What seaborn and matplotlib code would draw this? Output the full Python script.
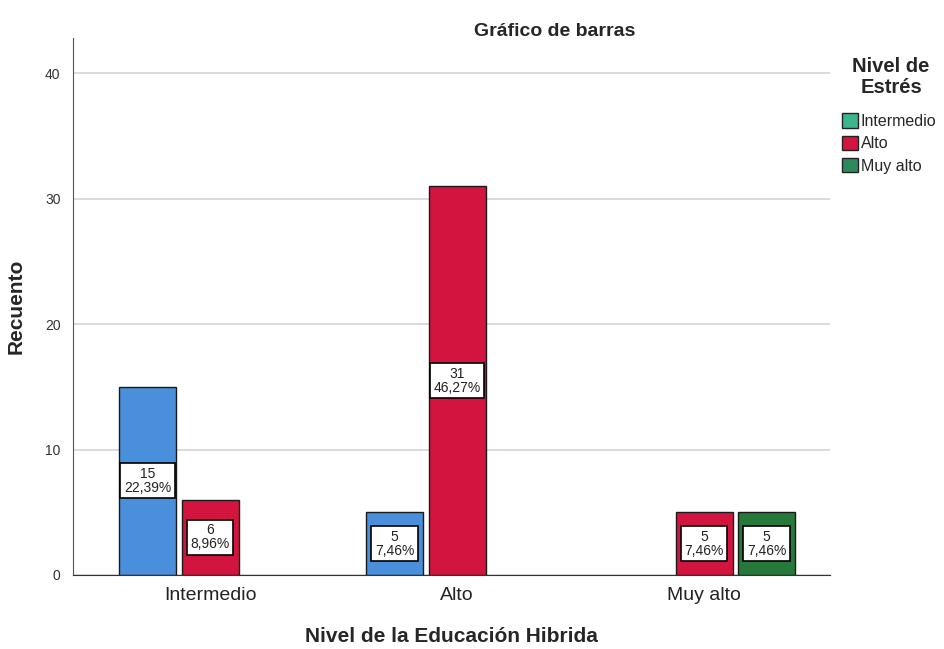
import matplotlib
matplotlib.use("Agg")
import matplotlib.pyplot as plt
import seaborn as sns
import pandas as pd
import numpy as np
from matplotlib.patches import Patch

# ---- data ----
educ_levels = ["Intermedio", "Alto", "Muy alto"]
stress_levels = ["Intermedio", "Alto", "Muy alto"]
educ_col = ["Intermedio", "Intermedio", "Alto", "Alto", "Muy alto", "Muy alto"]
stress_col = ["Intermedio", "Alto", "Intermedio", "Alto", "Alto", "Muy alto"]
counts = [15, 6, 5, 31, 5, 5]
yticks = [0, 10, 20, 30, 40]

bar_colors = ["#4a8fdc", "#d3143e", "#26793a"]
legend_colors = ["#3db58e", "#d3143e", "#2e8a5e"]

df = pd.DataFrame({"educ": educ_col, "estres": stress_col, "count": counts})
total = sum(counts)

sns.set_style("white")
plt.rcParams["font.family"] = ["Liberation Sans", "DejaVu Sans"]

fig = plt.figure(figsize=(9.44, 6.49), dpi=100)
ax = fig.add_axes([73/944, 1-575/649, (830-73)/944, (575-38)/649])

sns.barplot(data=df, x="educ", y="count", hue="estres", order=educ_levels,
            hue_order=stress_levels, palette=bar_colors, saturation=1,
            width=0.76, gap=0.09,
            edgecolor="#1a1a1a", linewidth=1.0, errorbar=None, legend=False, ax=ax)

for cont in ax.containers:
    for bar in cont:
        h = bar.get_height()
        if h is None or np.isnan(h) or h == 0:
            continue
        cx = bar.get_x() + bar.get_width()/2
        pct = f"{h/total*100:.2f}".replace(".", ",") + "%"
        ax.text(cx, h/2, f"{int(round(h))}\n{pct}", ha="center", va="center",
                fontsize=10, linespacing=1.0, color="#222222",
                bbox=dict(boxstyle="square,pad=0.25", fc="white", ec="black", lw=1.2))

ax.set_ylim(0, 42.8)
ax.set_xlim(-0.555, 2.51)
ax.set_yticks(yticks)
ax.yaxis.grid(True, color="#d4d4d4", lw=1.2)
ax.set_axisbelow(True)
for s in ["top", "right"]:
    ax.spines[s].set_visible(False)
ax.spines["left"].set_color("#555555")
ax.spines["bottom"].set_color("#333333")
ax.tick_params(axis="y", length=6, color="#bbbbbb", labelsize=10, labelcolor="#333333", pad=3)
ax.tick_params(axis="x", length=0, labelsize=14, labelcolor="#222222", pad=9)

ax.set_ylabel("Recuento", fontsize=15, fontweight="bold", labelpad=14)
ax.set_xlabel("Nivel de la Educación Hibrida", fontsize=15, fontweight="bold", labelpad=16)

fig.text(555/944, 1-31/649, "Gráfico de barras", ha="center", va="center",
         fontsize=14, fontweight="bold")

fig.text(891/944, 1-77/649, "Nivel de\nEstrés", ha="center", va="center",
         multialignment="center", fontsize=14.5, fontweight="bold", linespacing=1.12)

handles = [Patch(facecolor=c, edgecolor="#222222", lw=1) for c in legend_colors]
leg = fig.legend(handles, stress_levels, loc="upper left",
                 bbox_to_anchor=(836/944, 1-107/649), frameon=False, fontsize=11.5,
                 handlelength=1.0, handleheight=1.0, handletextpad=0.15,
                 labelspacing=0.42, borderaxespad=0)

fig.savefig("out.png", dpi=100)
